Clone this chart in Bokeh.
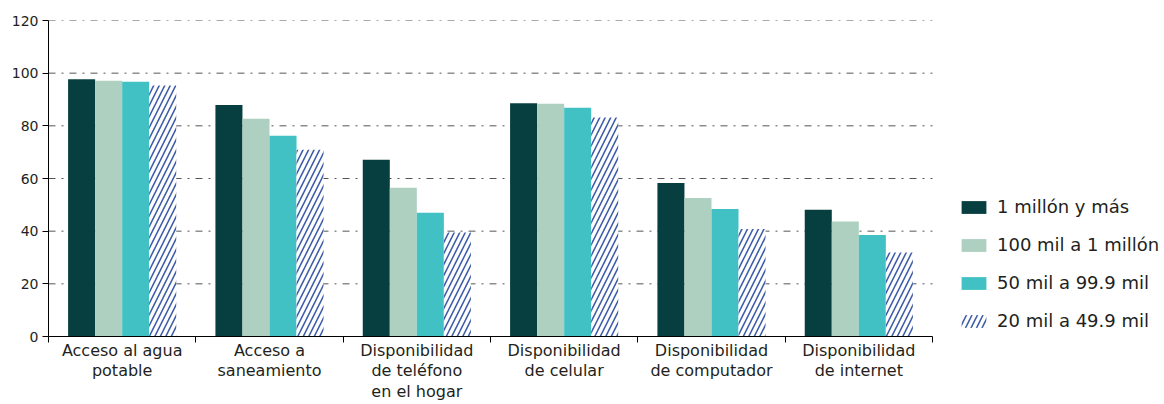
from bokeh.plotting import figure
from bokeh.models import (ColumnDataSource, Range1d, FixedTicker, Legend, LegendItem)
from bokeh.embed import file_html
from bokeh.resources import INLINE

# Indicators by city size (%)
categories = [
    "Acceso al agua\npotable",
    "Acceso a\nsaneamiento",
    "Disponibilidad\nde teléfono\nen el hogar",
    "Disponibilidad\nde celular",
    "Disponibilidad\nde computador",
    "Disponibilidad\nde internet",
]
series = ["1 millón y más", "100 mil a 1 millón", "50 mil a 99.9 mil", "20 mil a 49.9 mil"]
v_1m = [97.7, 87.9, 67.1, 88.6, 58.3, 48.1]
v_100k = [97.1, 82.7, 56.5, 88.4, 52.6, 43.7]
v_50k = [96.7, 76.2, 47.0, 86.9, 48.4, 38.5]
v_20k = [95.3, 70.9, 39.5, 83.2, 40.8, 31.9]
y_ticks = [0, 20, 40, 60, 80, 100, 120]

FONT = "DejaVu Sans"
TEXT = "#231f20"
colors = ["#073e3f", "#aed0c0", "#41c1c3"]
HATCH = "#3d5ca9"

n = len(categories)
# the frame reaches the right edge so the legend can sit beside the bars;
# the axis and the grid lines stop at the last group
x_end = -0.5 + 1116 / 147.33
p = figure(width=1164, height=404, output_backend="svg", toolbar_location=None,
           x_range=Range1d(-0.5, x_end), y_range=Range1d(0, 120),
           min_border_left=48, min_border_right=0, min_border_top=20,
           min_border_bottom=67)
p.outline_line_color = None
p.background_fill_color = "white"
p.border_fill_color = "white"

# dash-dot grid lines
p.xgrid.grid_line_color = None
p.ygrid.grid_line_color = None
grid_y = y_ticks[1:]
p.segment(x0=[-0.5] * len(grid_y), x1=[n - 0.5] * len(grid_y), y0=grid_y, y1=grid_y,
          line_color="#555555", line_width=1, line_dash="7 6 2 6")

bar_w = 0.1835
offsets = [-1.5 * bar_w, -0.5 * bar_w, 0.5 * bar_w, 1.5 * bar_w]
renderers = []
for k, vals in enumerate([v_1m, v_100k, v_50k, v_20k]):
    src = ColumnDataSource(dict(x=[i + offsets[k] for i in range(n)], top=vals))
    if k < 3:
        r = p.vbar(x="x", top="top", width=bar_w, source=src,
                   fill_color=colors[k], line_color=None)
    else:
        r = p.vbar(x="x", top="top", width=bar_w, source=src,
                   fill_color="white", line_color=None,
                   hatch_pattern="/", hatch_color=HATCH, hatch_scale=11,
                   hatch_weight=1.6)
    renderers.append(r)

# y axis
p.yaxis.ticker = FixedTicker(ticks=y_ticks)
p.yaxis.axis_line_color = "black"
p.yaxis.major_tick_out = 6
p.yaxis.major_tick_in = 0
p.yaxis.major_tick_line_color = "black"
p.yaxis.minor_tick_line_color = None
p.yaxis.major_label_text_font = FONT
p.yaxis.major_label_text_font_size = "14px"
p.yaxis.major_label_text_color = TEXT
p.yaxis.major_label_standoff = 4

# x axis: labels at group centres, ticks at group boundaries
p.xaxis.bounds = (-0.5, n - 0.5)
p.xaxis.ticker = FixedTicker(ticks=list(range(n)),
                             minor_ticks=[i - 0.5 for i in range(n + 1)])
p.xaxis.major_label_overrides = {i: c for i, c in enumerate(categories)}
p.xaxis.axis_line_color = "black"
p.xaxis.major_tick_line_color = None
p.xaxis.major_tick_out = 0
p.xaxis.major_tick_in = 0
p.xaxis.minor_tick_line_color = "black"
p.xaxis.minor_tick_out = 6
p.xaxis.minor_tick_in = 0
p.xaxis.major_label_text_font = FONT
p.xaxis.major_label_text_font_size = "16px"
p.xaxis.major_label_text_color = TEXT
p.xaxis.major_label_text_line_height = 1.1
p.xaxis.major_label_standoff = -2

legend = Legend(
    items=[LegendItem(label=s, renderers=[r]) for s, r in zip(series, renderers)],
    location=(910, 5), orientation="vertical",
    glyph_width=31, glyph_height=16, label_height=16, spacing=17,
    label_standoff=8, padding=0, margin=0,
    border_line_color=None, background_fill_alpha=0,
    label_text_font=FONT, label_text_font_size="18px", label_text_color=TEXT,
)
p.add_layout(legend, "center")

open("out.html", "w").write(file_html(p, INLINE))
